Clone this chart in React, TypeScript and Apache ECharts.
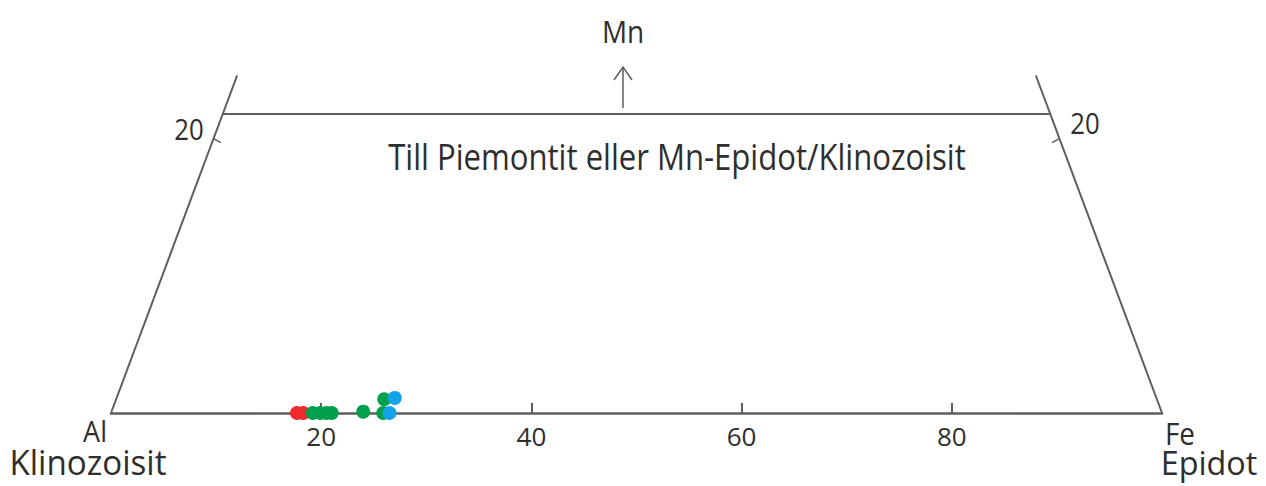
import React, { useEffect, useRef } from "react";
import * as echarts from "echarts";

// Fe (%) along the bottom edge, Mn (%) upward
const feTicks = [20, 40, 60, 80];

const redFe = [17.7, 18.3];
const redMn = [0.0, 0.0];
const greenFe = [19.2, 19.9, 20.5, 21.0, 24.0, 25.9, 26.0];
const greenMn = [0.0, 0.0, 0.0, 0.0, 0.1, 0.0, 1.0];
const blueFe = [26.5, 27.0];
const blueMn = [0.0, 1.1];

// diagram frame (data space)
const leftSide = [[0, 0], [12, 24.6]];
const rightSide = [[100, 0], [88, 24.6]];
const topLine = [[10.63, 21.8], [89.37, 21.8]];
const leftTick = [[9.76, 20], [10.45, 19.7]];
const rightTick = [[90.24, 20], [89.55, 19.7]];

const FONT = "'Open Sans', 'Noto Sans', sans-serif";
const LINE = "#5e5e5e";
const TXT = "#2e2e2e";

function pairs(xs: number[], ys: number[]) {
  return xs.map((x, i) => [x, ys[i]]);
}

function frame(data: number[][], w = 2) {
  return {
    type: "line",
    data,
    symbol: "none",
    silent: true,
    lineStyle: { color: LINE, width: w },
    z: 1,
  };
}

function label(text: string, x: number, y: number, size: number, align = "center", sx = 0.86, sy = 1) {
  return {
    type: "text",
    x,
    y,
    scaleX: sx,
    scaleY: sy,
    style: {
      text,
      fill: TXT,
      font: `${size}px ${FONT}`,
      textAlign: align,
      textVerticalAlign: "middle",
    },
  };
}

export default function App() {
  const ref = useRef<HTMLDivElement>(null);
  useEffect(() => {
    if (!ref.current) return;
    const chart = echarts.init(ref.current, null, { renderer: "svg" });
    chart.setOption({
      animation: false,
      backgroundColor: "#ffffff",
      grid: { left: 111, right: 104, top: 70, bottom: 73 },
      xAxis: {
        type: "value",
        min: 0,
        max: 100,
        interval: 20,
        splitLine: { show: false },
        axisLine: { lineStyle: { color: LINE, width: 2.5 } },
        axisTick: {
          inside: true,
          length: 10,
          customValues: feTicks,
          lineStyle: { color: LINE, width: 2 },
        },
        axisLabel: {
          customValues: feTicks,
          color: TXT,
          fontSize: 26,
          fontFamily: FONT,
          margin: 10,
        },
      },
      yAxis: {
        type: "value",
        min: 0,
        max: 25,
        show: false,
        splitLine: { show: false },
      },
      series: [
        frame(leftSide),
        frame(rightSide),
        frame(topLine),
        frame(leftTick, 1.5),
        frame(rightTick, 1.5),
        {
          type: "scatter",
          data: pairs(redFe, redMn),
          symbolSize: 14,
          itemStyle: { color: "#ee2a2e", opacity: 1 },
          z: 3,
        },
        {
          type: "scatter",
          data: pairs(greenFe, greenMn),
          symbolSize: 14,
          itemStyle: { color: "#00a04c", opacity: 1 },
          z: 4,
        },
        {
          type: "scatter",
          data: pairs(blueFe, blueMn),
          symbolSize: 14,
          itemStyle: { color: "#13a4e8", opacity: 1 },
          z: 5,
        },
      ],
      graphic: [
        label("Mn", 623, 31, 31, "center", 0.9),
        {
          type: "line",
          shape: { x1: 623, y1: 108, x2: 623, y2: 68 },
          style: { stroke: LINE, lineWidth: 1.5 },
        },
        {
          type: "polyline",
          shape: { points: [[614, 80], [623, 67], [632, 80]] },
          style: { stroke: LINE, lineWidth: 1.5, fill: null },
        },
        label("20", 189, 128, 30),
        label("20", 1085, 122, 30),
        label("Till Piemontit eller Mn-Epidot/Klinozoisit", 677, 156, 36, "center", 0.864),
        label("Al", 95, 430, 30, "center", 0.9),
        label("Klinozoisit", 88, 462, 34, "center", 0.975),
        label("Fe", 1180, 433, 31, "center", 0.9),
        label("Epidot", 1209, 462, 33, "center", 0.98),
      ],
    });
    return () => chart.dispose();
  }, []);
  return (
    <div
      ref={ref}
      style={{ position: "fixed", left: 0, top: 0, width: 1266, height: 486 }}
    />
  );
}
